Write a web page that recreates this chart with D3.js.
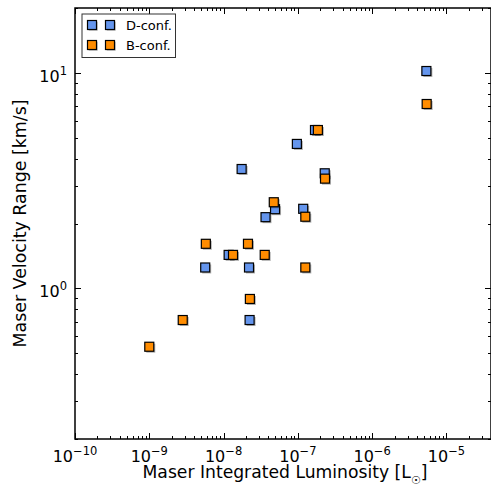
<!DOCTYPE html>
<html><head><meta charset="utf-8">
<script src="https://cdn.jsdelivr.net/npm/d3@7"></script>
<style>body{margin:0;background:#fff}svg{display:block}text{font-family:"DejaVu Sans",sans-serif;fill:#000}</style>
</head><body><svg id="c" width="491" height="492"></svg>
<script>
// Data
const dLum = [1.75e-8, 2.3e-7, 4.93e-8, 1.18e-7, 3.67e-8, 1.17e-8, 5.66e-9, 2.2e-8, 2.24e-8, 5.37e-6, 9.7e-8, 1.70e-7];
const dVel = [3.58, 3.42, 2.33, 2.34, 2.14, 1.43, 1.25, 1.25, 0.713, 10.2, 4.68, 5.43];
const bLum = [2.32e-7, 4.74e-8, 1.26e-7, 5.77e-9, 2.13e-8, 1.34e-8, 3.58e-8, 1.26e-7, 2.26e-8, 2.82e-9, 1e-9, 5.42e-6, 1.86e-7];
const bVel = [3.23, 2.51, 2.15, 1.61, 1.61, 1.43, 1.43, 1.25, 0.893, 0.713, 0.536, 7.17, 5.43];
const seriesNames = ["D-conf.", "B-conf."];
const seriesColors = ["#6495ED", "#FF8C00"];
const xTickExp = [-10, -9, -8, -7, -6, -5];
const yTickExp = [0, 1];

const svg = d3.select("#c");
const L = 75, R = 491, T = 8, B = 439;
const x = d3.scaleLog().domain([1e-10, 3.98e-5]).range([L, R]);
const y = d3.scaleLog().domain([0.2, 20]).range([B, T]);

// minor ticks
function minors(dom){
  const out=[];
  for(let e=-12;e<=3;e++) for(let m=1;m<=9;m++){const v=m*Math.pow(10,e); if(v>=dom[0]*0.999 && v<=dom[1]*1.001) out.push({v, major:m===1});}
  return out;
}
const tg = svg.append("g").attr("stroke","#000").attr("stroke-width",1);
minors(x.domain()).forEach(t=>{
  const px = Math.round(x(t.v))+0.5, len = t.major?6:3;
  tg.append("line").attr("x1",px).attr("x2",px).attr("y1",B).attr("y2",B-len);
  tg.append("line").attr("x1",px).attr("x2",px).attr("y1",T).attr("y2",T+len);
});
minors(y.domain()).forEach(t=>{
  const py = Math.round(y(t.v))+0.5, len = t.major?6:3;
  tg.append("line").attr("y1",py).attr("y2",py).attr("x1",L).attr("x2",L+len);
  tg.append("line").attr("y1",py).attr("y2",py).attr("x1",R).attr("x2",R-len);
});

// frame
svg.append("rect").attr("x",L).attr("y",T).attr("width",R-L).attr("height",B-T)
  .attr("fill","none").attr("stroke","#000").attr("stroke-width",1.5);

// tick labels
xTickExp.forEach(e=>{
  const t = svg.append("text").attr("x",x(Math.pow(10,e))).attr("y",462).attr("text-anchor","middle").attr("font-size",16);
  t.append("tspan").text("10");
  t.append("tspan").attr("dy",-7).attr("font-size",11.5).text(e<0?"\u2212"+(-e):""+e);
});
yTickExp.forEach(e=>{
  const t = svg.append("text").attr("x",67).attr("y",y(Math.pow(10,e))+9).attr("text-anchor","end").attr("font-size",16);
  t.append("tspan").text("10");
  t.append("tspan").attr("dy",-7).attr("font-size",11.5).text(""+e);
});

// axis titles
const xt = svg.append("text").attr("x",(L+R)/2+2).attr("y",478).attr("text-anchor","middle").attr("font-size",17.2);
xt.append("tspan").text("Maser Integrated Luminosity [L");
xt.append("tspan").attr("dy",6).attr("font-size",11).text("\u2609");
xt.append("tspan").attr("dy",-6).text("]");
svg.append("text").attr("transform",`translate(26,${(T+B)/2}) rotate(-90)`).attr("text-anchor","middle").attr("font-size",17.4)
  .text("Maser Velocity Range [km/s]");

// markers
const S = 9;
function drawSeries(lum, vel, color){
  const g = svg.append("g");
  const pts = lum.map((v,i)=>[v, vel[i]]);
  g.selectAll(".sh").data(pts).join("rect")
    .attr("x",d=>x(d[0])-S/2+1.5).attr("y",d=>y(d[1])-S/2+1.5).attr("width",S).attr("height",S)
    .attr("fill","#000").attr("opacity",0.3);
  g.selectAll(".mk").data(pts).join("rect")
    .attr("x",d=>x(d[0])-S/2).attr("y",d=>y(d[1])-S/2).attr("width",S).attr("height",S)
    .attr("fill",color).attr("stroke","#000").attr("stroke-width",1.2);
}
drawSeries(dLum, dVel, seriesColors[0]);
drawSeries(bLum, bVel, seriesColors[1]);

// legend
const lg = svg.append("g");
lg.append("rect").attr("x",82).attr("y",14).attr("width",93.5).attr("height",43.5)
  .attr("fill","#fff").attr("stroke","#333").attr("stroke-width",1);
seriesNames.forEach((n,i)=>{
  const cy = 25 + i*20;
  [92,110].forEach(cx=>{
    lg.append("rect").attr("x",cx-S/2+1.2).attr("y",cy-S/2+1.2).attr("width",S).attr("height",S).attr("fill","#000").attr("opacity",0.3);
    lg.append("rect").attr("x",cx-S/2).attr("y",cy-S/2).attr("width",S).attr("height",S)
      .attr("fill",seriesColors[i]).attr("stroke","#000").attr("stroke-width",1.2);
  });
  lg.append("text").attr("x",126).attr("y",cy+4.5).attr("font-size",13).text(n);
});
</script></body></html>
